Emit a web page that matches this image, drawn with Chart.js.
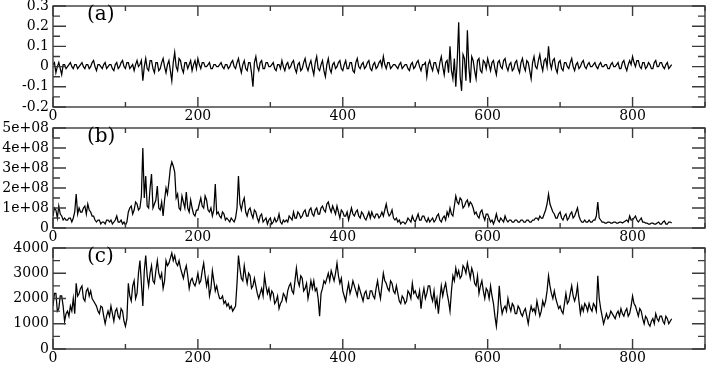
<!DOCTYPE html>
<html>
<head>
<meta charset="utf-8">
<script src="https://cdn.jsdelivr.net/npm/chart.js@4"></script>
<style>
  html, body { margin: 0; padding: 0; background: #fff; }
  #wrap { position: relative; width: 708px; height: 365px; }
  .panel { position: absolute; left: 0; top: 0; width: 708px; height: 365px; }
</style>
</head>
<body>
<div id="wrap">
  <div class="panel"><canvas id="chart-a"></canvas></div>
  <div class="panel"><canvas id="chart-b"></canvas></div>
  <div class="panel"><canvas id="chart-c"></canvas></div>
</div>
<script>
// samples are read every 2 steps along the x axis
const STEP = 2;

// panel (a)
const aValues = [
  0.01, 0.02, -0.03, 0.00, 0.02, -0.01, -0.04, 0.01, 0.01, -0.01, 0.00, 0.01, 0.02, 0.00, -0.01, 0.01, 0.01, -0.01, 0.00, 0.01,
  0.02, 0.00, -0.01, 0.01, 0.01, -0.01, 0.00, 0.02, 0.03, 0.00, -0.02, 0.01, 0.01, 0.00, -0.01, 0.01, 0.02, -0.01, 0.00, 0.01,
  0.01, -0.01, -0.02, 0.01, 0.02, -0.01, 0.00, 0.02, 0.03, 0.00, -0.01, 0.02, 0.02, -0.01, 0.00, 0.01, -0.02, 0.01, 0.03, 0.00,
  0.01, 0.03, -0.07, 0.00, 0.04, -0.01, -0.02, 0.03, 0.03, -0.01, -0.03, 0.02, 0.02, -0.02, -0.01, 0.02, 0.04, 0.00, -0.03, 0.01,
  0.03, -0.02, -0.07, 0.02, 0.07, 0.00, -0.02, 0.04, 0.03, -0.01, -0.03, 0.02, 0.02, -0.01, 0.01, 0.03, -0.02, 0.01, 0.03, -0.01,
  0.04, 0.01, -0.01, 0.02, 0.02, 0.00, 0.00, 0.01, 0.02, -0.01, -0.01, 0.01, 0.01, 0.00, 0.00, 0.01, 0.02, 0.00, -0.01, 0.01,
  0.01, -0.01, 0.00, 0.02, 0.03, 0.00, -0.01, 0.02, 0.04, 0.00, -0.03, 0.01, 0.03, -0.01, -0.02, 0.02, 0.02, -0.03, -0.10, 0.02,
  0.05, 0.00, -0.02, 0.02, 0.03, -0.01, -0.01, 0.02, 0.02, 0.00, 0.00, 0.01, 0.02, -0.01, -0.02, 0.01, 0.01, -0.01, 0.03, 0.00,
  -0.02, 0.01, 0.02, -0.01, 0.00, 0.02, 0.03, -0.01, -0.03, 0.01, 0.02, -0.02, -0.01, 0.02, 0.04, 0.00, -0.02, 0.01, 0.03, -0.01,
  -0.04, 0.02, 0.05, -0.01, -0.02, 0.01, 0.03, -0.02, -0.05, 0.01, 0.04, -0.01, -0.03, 0.01, 0.02, -0.01, 0.00, 0.02, 0.03, -0.01,
  -0.02, 0.01, 0.03, -0.01, -0.01, 0.02, 0.02, -0.02, -0.03, 0.02, 0.04, 0.00, -0.01, 0.01, 0.02, -0.01, 0.00, 0.02, 0.03, -0.01,
  -0.02, 0.01, 0.02, -0.01, 0.00, 0.02, 0.03, 0.00, 0.05, 0.01, -0.01, 0.02, 0.02, -0.01, 0.00, 0.01, 0.01, 0.00, -0.01, 0.01,
  0.02, -0.01, 0.00, 0.01, 0.01, -0.01, -0.02, 0.01, 0.02, -0.01, 0.00, 0.02, 0.03, 0.00, -0.02, 0.01, 0.01, 0.02, -0.05, 0.01,
  0.03, 0.00, -0.02, 0.02, 0.02, -0.01, -0.03, 0.02, 0.05, 0.00, -0.04, 0.02, 0.03, -0.03, 0.10, -0.02, -0.06, 0.04, -0.10, 0.03,
  0.22, -0.05, -0.12, 0.06, 0.04, -0.07, 0.18, 0.00, -0.08, 0.05, 0.03, -0.02, -0.06, 0.03, 0.04, -0.02, -0.03, 0.03, 0.02, -0.01,
  0.04, 0.01, -0.02, 0.02, 0.03, -0.01, -0.04, 0.02, 0.03, 0.00, -0.01, 0.03, 0.04, 0.00, -0.02, 0.01, 0.02, -0.02, -0.01, 0.02,
  0.03, -0.01, -0.03, 0.02, 0.04, 0.00, -0.02, 0.03, 0.02, -0.02, -0.06, 0.02, 0.05, 0.00, -0.01, 0.03, 0.06, 0.01, -0.02, 0.03,
  0.04, 0.00, 0.10, 0.02, -0.01, 0.03, 0.04, -0.01, -0.03, 0.02, 0.03, -0.01, -0.02, 0.02, 0.02, 0.00, -0.01, 0.02, 0.04, 0.00,
  -0.02, 0.01, 0.02, -0.01, 0.00, 0.02, 0.03, 0.00, -0.01, 0.01, 0.02, 0.00, 0.00, 0.01, 0.02, 0.00, -0.01, 0.01, 0.02, 0.00,
  0.00, 0.01, 0.01, -0.01, -0.01, 0.01, 0.02, 0.00, 0.00, 0.01, 0.02, -0.01, -0.01, 0.02, 0.03, 0.00, -0.02, 0.01, 0.03, 0.01,
  0.05, 0.02, 0.00, 0.03, 0.03, 0.00, -0.01, 0.02, 0.02, -0.01, 0.00, 0.02, 0.01, -0.01, -0.01, 0.02, 0.03, 0.00, 0.00, 0.02,
  0.02, 0.00, -0.01, 0.01, 0.02, -0.01, 0.00, 0.01
];

// panel (b), in units of 1e8
const bValues1e8 = [
  0.6, 1.0, 0.9, 0.5, 1.1, 0.7, 0.6, 0.4, 0.5, 0.4, 0.4, 0.5, 0.5, 0.3, 0.5, 0.8, 1.7, 0.7, 1.0, 0.8,
  0.8, 1.0, 1.1, 0.7, 1.2, 0.9, 0.8, 0.6, 0.6, 0.4, 0.3, 0.4, 0.4, 0.2, 0.3, 0.3, 0.2, 0.4, 0.4, 0.3,
  0.4, 0.2, 0.3, 0.4, 0.6, 0.3, 0.3, 0.4, 0.2, 0.3, 0.15, 0.3, 0.8, 1.0, 1.1, 0.7, 0.9, 1.3, 1.2, 0.9,
  1.0, 1.6, 4.0, 1.5, 2.6, 1.1, 1.0, 2.0, 2.7, 1.0, 1.2, 1.4, 2.1, 1.0, 0.9, 1.3, 0.6, 1.4, 2.0, 1.7,
  2.3, 3.0, 3.3, 3.1, 2.8, 1.5, 1.7, 1.0, 0.9, 1.6, 1.3, 1.0, 1.8, 1.0, 0.8, 1.4, 1.0, 0.7, 0.6, 0.9,
  0.9, 1.2, 1.5, 1.1, 1.0, 1.6, 1.4, 0.9, 0.8, 1.0, 0.6, 0.9, 2.2, 0.7, 0.8, 0.6, 0.5, 0.8, 0.7, 0.4,
  0.5, 0.4, 0.3, 0.5, 0.4, 0.3, 0.5, 1.0, 2.6, 1.2, 0.9, 1.3, 1.5, 0.8, 0.6, 0.9, 1.0, 0.7, 0.5, 0.9,
  0.8, 0.5, 0.3, 0.6, 0.7, 0.3, 0.4, 0.5, 0.2, 0.4, 0.5, 0.2, 0.3, 0.5, 0.3, 0.4, 0.7, 0.3, 0.2, 0.4,
  0.3, 0.4, 0.3, 0.6, 0.5, 0.4, 0.8, 0.5, 0.5, 0.8, 0.7, 0.5, 0.6, 0.8, 0.9, 0.6, 0.6, 0.9, 1.0, 0.7,
  0.6, 0.9, 1.0, 0.7, 0.7, 1.0, 1.1, 0.9, 0.8, 1.2, 1.3, 1.0, 0.8, 1.1, 0.9, 0.7, 1.1, 0.8, 0.5, 0.9,
  0.8, 0.6, 0.6, 0.8, 0.4, 0.7, 1.0, 0.7, 0.6, 0.8, 0.9, 0.6, 0.5, 0.8, 0.7, 0.5, 0.4, 0.6, 0.8, 0.5,
  0.8, 0.6, 0.5, 0.7, 0.7, 0.5, 0.6, 0.8, 0.6, 0.9, 1.2, 0.8, 0.6, 0.7, 0.9, 0.5, 0.4, 0.5, 0.3, 0.4,
  0.2, 0.3, 0.3, 0.2, 0.3, 0.5, 0.4, 0.3, 0.6, 0.4, 0.3, 0.5, 0.7, 0.4, 0.4, 0.6, 0.6, 0.4, 0.3, 0.5,
  0.3, 0.4, 0.5, 0.3, 0.4, 0.6, 0.7, 0.4, 0.3, 0.5, 0.6, 0.4, 0.8, 0.6, 1.0, 0.7, 0.6, 1.1, 1.6, 1.3,
  1.2, 1.5, 1.4, 1.0, 1.1, 1.3, 1.4, 1.1, 1.3, 1.2, 1.0, 0.7, 0.8, 0.6, 0.5, 0.8, 0.9, 0.6, 0.4, 0.7,
  0.7, 0.5, 0.3, 0.4, 0.2, 0.4, 0.7, 0.4, 0.3, 0.5, 0.4, 0.3, 0.6, 0.4, 0.3, 0.4, 0.4, 0.3, 0.3, 0.4,
  0.4, 0.3, 0.3, 0.4, 0.4, 0.3, 0.3, 0.4, 0.4, 0.3, 0.3, 0.4, 0.4, 0.5, 0.5, 0.4, 0.6, 0.5, 0.5, 0.7,
  0.9, 1.2, 1.7, 1.2, 1.0, 0.8, 0.7, 0.5, 0.5, 0.7, 0.8, 0.5, 0.4, 0.6, 0.7, 0.4, 0.5, 0.7, 0.8, 0.5,
  0.6, 0.8, 1.0, 0.6, 0.4, 0.3, 0.3, 0.4, 0.3, 0.3, 0.4, 0.3, 0.3, 0.4, 0.4, 0.6, 1.3, 0.5, 0.4, 0.3,
  0.3, 0.25, 0.25, 0.3, 0.3, 0.25, 0.25, 0.3, 0.3, 0.25, 0.25, 0.3, 0.3, 0.25, 0.3, 0.35, 0.4, 0.3, 0.6, 0.4,
  0.4, 0.5, 0.6, 0.4, 0.3, 0.4, 0.5, 0.3, 0.3, 0.25, 0.25, 0.2, 0.2, 0.25, 0.25, 0.2, 0.2, 0.25, 0.3, 0.2,
  0.2, 0.3, 0.35, 0.2, 0.2, 0.3, 0.3, 0.25
];

// panel (c)
const cValues = [
  1700, 2200, 2200, 1500, 1600, 2100, 2100, 1700, 1100, 1400, 1500, 1300, 1700, 1500, 2000, 1400, 2600, 2100, 2200, 2400,
  2500, 2000, 1900, 2300, 2400, 2100, 2300, 2000, 1900, 1800, 1700, 1500, 1400, 1700, 1650, 1300, 1000, 1300, 1500, 1300,
  1700, 1400, 1100, 1500, 1600, 1300, 1200, 1600, 1500, 1100, 900, 1200, 2600, 2100, 1900, 2500, 2700, 2000, 2200, 3000,
  3500, 2600, 1700, 3100, 3700, 2900, 2500, 3000, 3300, 2700, 2600, 3100, 3500, 3000, 2800, 3000, 2400, 2700, 3500, 3300,
  3400, 3600, 3800, 3500, 3700, 3400, 3300, 3500, 3200, 3000, 2800, 3100, 3300, 2900, 2400, 2700, 2800, 2600, 2500, 2700,
  3000, 2600, 2700, 3100, 3400, 2900, 2500, 2800, 2100, 2400, 3100, 2700, 2300, 2500, 2200, 2000, 2000, 2100, 1800, 1900,
  1700, 1800, 1600, 1700, 1500, 1600, 1700, 2600, 3700, 3200, 2800, 2700, 3300, 2900, 2600, 3000, 2900, 2400, 2500, 2800,
  2500, 2200, 2000, 2200, 2400, 2100, 2900, 2500, 2200, 2400, 2000, 2300, 2200, 1800, 1900, 2100, 1600, 1800, 1900, 2200,
  2100, 1900, 2300, 2500, 2600, 2300, 2200, 2700, 3200, 2700, 2500, 2900, 2800, 2300, 2400, 2600, 2000, 2300, 2700, 2400,
  2700, 2300, 2400, 2000, 1300, 2200, 2400, 2700, 2600, 2800, 3000, 2700, 3100, 2900, 2700, 3000, 3400, 2900, 2600, 2800,
  2300, 2100, 1900, 2300, 2600, 2200, 2400, 2700, 2500, 2300, 2100, 2500, 2300, 2100, 1900, 2200, 2300, 2000, 2000, 2300,
  2300, 2100, 2000, 2400, 2700, 2300, 2000, 2500, 3000, 2700, 2600, 2400, 2300, 2700, 2600, 2300, 2200, 2500, 2200, 1900,
  1800, 2100, 2000, 1800, 1900, 2300, 2200, 2000, 2600, 2200, 2300, 2100, 2000, 2300, 1600, 2100, 2400, 2000, 2200, 2500,
  2500, 2100, 1900, 2300, 1700, 2000, 1400, 2000, 2500, 2100, 2400, 2600, 2200, 1900, 1500, 2300, 2900, 2700, 3200, 2900,
  3100, 2800, 2900, 3300, 3200, 3000, 3400, 3100, 2800, 3200, 3000, 2600, 2500, 2900, 2200, 2500, 2700, 2300, 2000, 2400,
  2300, 2000, 2500, 2100, 1800, 1300, 900, 1500, 2500, 1800, 1400, 1600, 1700, 1500, 2000, 1700, 1500, 1800, 1700, 1400,
  1400, 1700, 1600, 1400, 1300, 1500, 1600, 1300, 1000, 1400, 1700, 1500, 1600, 1400, 1900, 1600, 1300, 1500, 1900, 1700,
  1900, 2300, 2900, 2500, 2200, 2000, 2300, 2000, 1800, 1600, 1700, 1500, 1400, 1800, 2200, 1800, 1900, 2200, 2500, 2100,
  1900, 2100, 2500, 1900, 1400, 1700, 1500, 1800, 1700, 1500, 1800, 1600, 1500, 1800, 1700, 1500, 2900, 2000, 1600, 1300,
  1000, 1200, 1400, 1200, 1300, 1500, 1400, 1300, 1200, 1400, 1500, 1300, 1600, 1400, 1300, 1500, 1600, 1300, 1400, 1700,
  2100, 1800, 1700, 1500, 1300, 1600, 1500, 1200, 1000, 1300, 1200, 1000, 900, 1100, 1200, 1000, 1400, 1200, 1100, 1300,
  1300, 1100, 1000, 1300, 1200, 1000, 1100, 1200
];

const panelLabels = ['(a)', '(b)', '(c)'];
const xTickLabels = ['0', '200', '400', '600', '800'];
const aTickLabels = ['-0.2', '-0.1', '0', '0.1', '0.2', '0.3'];
const bTickLabels = ['0', '1e+08', '2e+08', '3e+08', '4e+08', '5e+08'];
const cTickLabels = ['0', '1000', '2000', '3000', '4000'];

Chart.defaults.font.family = '"DejaVu Serif", serif';
Chart.defaults.font.size = 14;
Chart.defaults.color = '#000';

const AXIS_COLOR = '#3a3a3a';

// inward tick marks on all four sides plus the frame, like the original plot
const framePlugin = {
  id: 'frame',
  afterDraw(chart) {
    const ctx = chart.ctx;
    const a = chart.chartArea;
    ctx.save();
    ctx.strokeStyle = AXIS_COLOR;
    ctx.lineWidth = 1.4;
    ctx.beginPath();
    chart.scales.x.ticks.forEach(t => {
      const px = chart.scales.x.getPixelForValue(t.value);
      const len = t.label !== '' ? 10 : 5;
      ctx.moveTo(px, a.bottom); ctx.lineTo(px, a.bottom - len);
      ctx.moveTo(px, a.top); ctx.lineTo(px, a.top + len);
    });
    chart.scales.y.ticks.forEach(t => {
      const py = chart.scales.y.getPixelForValue(t.value);
      const len = t.label !== '' ? 13 : 7;
      ctx.moveTo(a.left, py); ctx.lineTo(a.left + len, py);
      ctx.moveTo(a.right, py); ctx.lineTo(a.right - len, py);
    });
    ctx.stroke();
    ctx.strokeRect(a.left, a.top, a.right - a.left, a.bottom - a.top);

    ctx.fillStyle = '#000';
    ctx.font = '20px "DejaVu Serif", serif';
    ctx.textBaseline = 'middle';
    ctx.fillText(chart.options.plugins.frame.label, a.left + 34, a.top + 9);
    ctx.restore();
  }
};

function labelFrom(list, fmt) {
  return function (value) {
    const s = fmt(value);
    return list.includes(s) ? s : '';
  };
}

function makePanel(canvasId, values, scaleBy, yMin, yMax, yStep, yFmt, yLabels, top, bottom, label) {
  const points = values.map((v, i) => ({ x: i * STEP, y: v * scaleBy }));
  new Chart(document.getElementById(canvasId), {
    type: 'line',
    data: {
      datasets: [{
        data: points,
        borderColor: '#000',
        borderWidth: 1.25,
        pointRadius: 0,
        tension: 0,
        fill: false
      }]
    },
    options: {
      responsive: true,
      maintainAspectRatio: false,
      animation: false,
      layout: { padding: { top: top, bottom: 365 - bottom - 15, left: 0, right: 3 } },
      plugins: {
        legend: { display: false },
        tooltip: { enabled: false },
        frame: { label: label }
      },
      scales: {
        x: {
          type: 'linear',
          min: 0,
          max: 900,
          grid: { display: false, drawTicks: false },
          border: { display: false },
          ticks: {
            stepSize: 100,
            autoSkip: false,
            maxRotation: 0,
            padding: 1,
            callback: labelFrom(xTickLabels, v => String(Math.round(v)))
          },
          afterFit(scale) {
            scale.height = 15;
            scale.paddingLeft = 0;
            scale.paddingRight = 0;
          }
        },
        y: {
          min: yMin,
          max: yMax,
          grid: { display: false, drawTicks: false },
          border: { display: false },
          ticks: {
            stepSize: yStep,
            autoSkip: false,
            padding: 4,
            callback: labelFrom(yLabels, yFmt)
          },
          afterFit(scale) {
            scale.width = 53;
            scale.paddingTop = 0;
            scale.paddingBottom = 0;
          }
        }
      }
    },
    plugins: [framePlugin]
  });
}

makePanel('chart-a', aValues, 1, -0.2, 0.3, 0.05,
  v => String(Math.round(v * 100) / 100), aTickLabels, 6, 107, panelLabels[0]);

makePanel('chart-b', bValues1e8, 1e8, 0, 5e8, 5e7,
  v => { const n = Math.round(v / 1e7) / 10; return n === 0 ? '0' : n + 'e+08'; },
  bTickLabels, 128, 228, panelLabels[1]);

makePanel('chart-c', cValues, 1, 0, 4000, 500,
  v => String(Math.round(v)), cTickLabels, 248, 349, panelLabels[2]);
</script>
</body>
</html>
